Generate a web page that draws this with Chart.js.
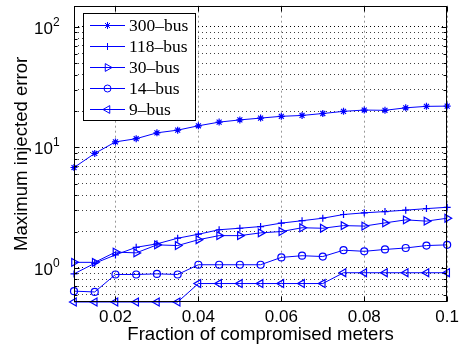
<!DOCTYPE html>
<html>
<head>
<meta charset="utf-8">
<script src="https://cdn.jsdelivr.net/npm/chart.js@4.4.1/dist/chart.umd.min.js"></script>
<style>
  html, body { margin: 0; padding: 0; background: #fff; }
</style>
</head>
<body>
<canvas id="chart" width="464" height="350"></canvas>
<script>
// fraction of compromised meters
const fractions = [0.01, 0.015, 0.02, 0.025, 0.03, 0.035, 0.04, 0.045, 0.05, 0.055,
                   0.06, 0.065, 0.07, 0.075, 0.08, 0.085, 0.09, 0.095, 0.1];

const bus300 = [6.8, 8.9, 11.1, 11.8, 13.2, 13.9, 15.1, 16.2, 16.9, 17.5,
                18.1, 18.4, 19.1, 19.9, 20.4, 20.3, 21.3, 21.9, 22.0];
const bus118 = [0.89, 1.09, 1.28, 1.48, 1.58, 1.76, 1.90, 2.07, 2.13, 2.20,
                2.35, 2.46, 2.58, 2.77, 2.86, 2.93, 3.01, 3.10, 3.18];
const bus30  = [1.11, 1.11, 1.35, 1.33, 1.55, 1.53, 1.71, 1.85, 1.85, 1.95,
                2.00, 2.15, 2.13, 2.24, 2.22, 2.36, 2.50, 2.44, 2.58];
const bus14  = [0.64, 0.63, 0.88, 0.88, 0.89, 0.88, 1.06, 1.06, 1.06, 1.06,
                1.22, 1.26, 1.24, 1.40, 1.37, 1.42, 1.46, 1.53, 1.55];
const bus9   = [0.52, 0.52, 0.52, 0.52, 0.52, 0.52, 0.74, 0.74, 0.74, 0.74,
                0.74, 0.74, 0.74, 0.91, 0.91, 0.91, 0.91, 0.91, 0.91];

const xTicks = [0.02, 0.04, 0.06, 0.08, 0.1];
const xTickLabels = ["0.02", "0.04", "0.06", "0.08", "0.1"];
const yMajor = [1, 10, 100];
const yMajorExp = ["0", "1", "2"];
const yGrid = [0.6, 0.7, 0.8, 0.9, 1, 2, 3, 4, 5, 6, 7, 8, 9,
               10, 20, 30, 40, 50, 60, 70, 80, 90, 100];

const BLUE = "#0000ff";
const pts = arr => arr.map((y, i) => ({ x: fractions[i], y }));

function series(label, arr, style, radius, rotation) {
  return {
    label,
    data: pts(arr),
    borderColor: BLUE,
    borderWidth: 1,
    pointStyle: style,
    pointRadius: radius,
    pointRotation: rotation || 0,
    pointBorderColor: BLUE,
    pointBackgroundColor: "rgba(0,0,0,0)",
    pointBorderWidth: 1.2,
    tension: 0,
    clip: false
  };
}

// box, inner ticks, y labels with exponents, legend
const decorations = {
  id: "decorations",
  afterDraw(chart) {
    const { ctx, chartArea: a, scales } = chart;
    const ys = scales.y, xs = scales.x;
    ctx.save();
    ctx.strokeStyle = "#000";
    ctx.lineWidth = 1;
    const L = Math.round(a.left) + 0.5, R = Math.round(a.right) - 0.5;
    const T = Math.round(a.top) + 0.5, B = Math.round(a.bottom) - 0.5;
    ctx.strokeRect(L, T, R - L, B - T);

    ctx.beginPath();
    yGrid.forEach(v => {
      const y = Math.round(ys.getPixelForValue(v)) + 0.5;
      const len = yMajor.includes(v) ? 5 : 3;
      ctx.moveTo(L, y); ctx.lineTo(L + len, y);
      ctx.moveTo(R, y); ctx.lineTo(R - len, y);
    });
    xTicks.forEach(v => {
      const x = Math.round(xs.getPixelForValue(v)) + 0.5;
      ctx.moveTo(x, B); ctx.lineTo(x, B - 5);
      ctx.moveTo(x, T); ctx.lineTo(x, T + 5);
    });
    ctx.stroke();

    // y tick labels 10^n
    ctx.fillStyle = "#000";
    ctx.textBaseline = "alphabetic";
    yMajor.forEach((v, i) => {
      const y = ys.getPixelForValue(v);
      ctx.textAlign = "right";
      ctx.font = "17px 'Liberation Sans', Arial, sans-serif";
      ctx.fillText("10", 53, y + 7);
      ctx.textAlign = "left";
      ctx.font = "12px 'Liberation Sans', Arial, sans-serif";
      ctx.fillText(yMajorExp[i], 53, y - 1);
    });

    // legend
    const bx = 83, by = 13, bw = 112, bh = 107;
    ctx.fillStyle = "#fff";
    ctx.fillRect(bx, by, bw, bh);
    ctx.strokeStyle = "#000";
    ctx.strokeRect(bx + 0.5, by + 0.5, bw, bh);
    chart.data.datasets.forEach((ds, i) => {
      const y = 25 + i * 21;
      ctx.strokeStyle = BLUE;
      ctx.lineWidth = 1;
      ctx.beginPath();
      ctx.moveTo(90, y + 0.5); ctx.lineTo(125, y + 0.5);
      ctx.stroke();
      ctx.fillStyle = "rgba(0,0,0,0)";
      Chart.helpers.drawPoint(ctx, {
        pointStyle: ds.pointStyle, radius: ds.pointRadius,
        rotation: ds.pointRotation, borderWidth: 1
      }, 107.5, y + 0.5);
      ctx.fillStyle = "#000";
      ctx.font = "17.5px 'Liberation Serif', 'Times New Roman', serif";
      ctx.textAlign = "left";
      ctx.textBaseline = "middle";
      ctx.fillText(ds.label.replace("-", "\u2013"), 129, y + 1);
    });
    ctx.restore();
  }
};

new Chart(document.getElementById("chart"), {
  type: "line",
  data: {
    datasets: [
      series("300-bus", bus300, "star", 3.5),
      series("118-bus", bus118, "cross", 3.5),
      series("30-bus", bus30, "triangle", 4.5, 90),
      series("14-bus", bus14, "circle", 3.5),
      series("9-bus", bus9, "triangle", 4.5, -90)
    ]
  },
  options: {
    responsive: false,
    animation: false,
    layout: { padding: { top: 5, right: 11, left: 0, bottom: 0 } },
    plugins: { legend: { display: false }, tooltip: { enabled: false } },
    scales: {
      x: {
        type: "linear",
        min: 0.01,
        max: 0.1,
        afterBuildTicks: s => { s.ticks = xTicks.map(v => ({ value: v })); },
        afterFit: s => { s.height = 48; },
        ticks: {
          autoSkip: false,
          maxRotation: 0,
          padding: 5,
          color: "#000",
          font: { family: "'Liberation Sans', Arial, sans-serif", size: 17 },
          callback: (v, i) => xTickLabels[i]
        },
        grid: { color: "#999999", drawTicks: false },
        border: { display: false, dash: [2, 3] },
        title: {
          display: true,
          text: "Fraction of compromised meters",
          color: "#000",
          font: { family: "'Liberation Sans', Arial, sans-serif", size: 18.6 },
          padding: { top: 0, bottom: 4 }
        }
      },
      y: {
        type: "logarithmic",
        min: 0.52,
        max: 150,
        afterBuildTicks: s => { s.ticks = yGrid.map(v => ({ value: v })); },
        afterFit: s => { s.width = 74; },
        ticks: { display: false },
        grid: {
          drawTicks: false,
          color: c => yMajor.includes(c.tick && c.tick.value) ? "#000000" : "#404040"
        },
        border: { display: false, dash: [1, 3] },
        title: {
          display: true,
          text: "Maximum injected error",
          color: "#000",
          font: { family: "'Liberation Sans', Arial, sans-serif", size: 18.6 },
          padding: { top: 11, bottom: 0 }
        }
      }
    }
  },
  plugins: [decorations]
});
</script>
</body>
</html>
